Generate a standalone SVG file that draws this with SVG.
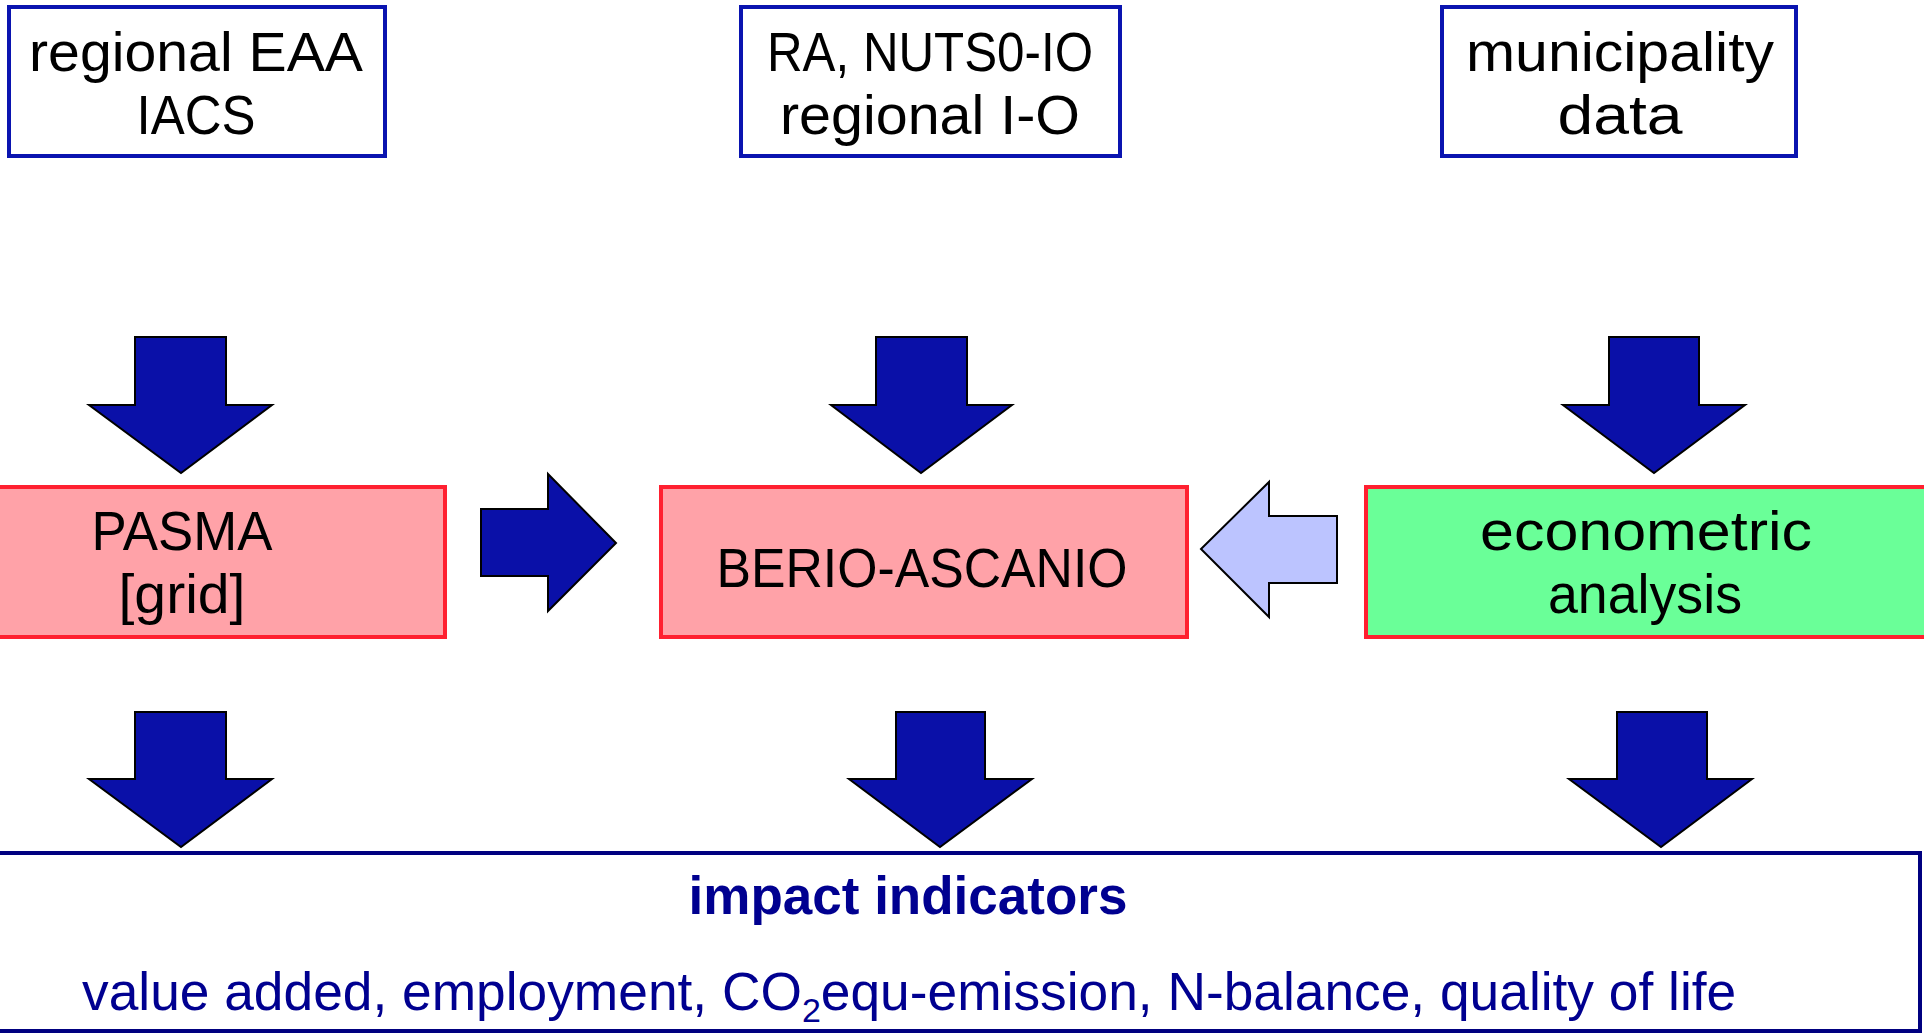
<svg xmlns="http://www.w3.org/2000/svg" width="1924" height="1034" viewBox="0 0 1924 1034">
<style>
.src{fill:#fff;stroke:#0A14B0;stroke-width:4}
.pink{fill:#FFA2A8;stroke:#FF2030;stroke-width:4}
.green{fill:#6AFF98;stroke:#FF2030;stroke-width:4}
.arr{fill:#0A10A8;stroke:#000;stroke-width:2;stroke-linejoin:miter}
.arrl{fill:#BCC4FF;stroke:#000;stroke-width:2}
.lbl{font-family:"Liberation Sans",Arial,sans-serif;font-size:55px;fill:#000;text-anchor:middle}
.out{fill:#fff;stroke:#000080;stroke-width:4}
.ttl{font-family:"Liberation Sans",Arial,sans-serif;font-size:53px;font-weight:bold;fill:#000090;text-anchor:middle}
.val{font-family:"Liberation Sans",Arial,sans-serif;font-size:53.3px;fill:#000090}
</style>
<rect width="1924" height="1034" fill="#fff"/>
<g id="src-eaa">
<rect class="src" x="9" y="7" width="376" height="149"/>
<text class="lbl" x="196" y="71" textLength="334" lengthAdjust="spacingAndGlyphs">regional EAA</text>
<text class="lbl" x="196" y="134" textLength="119" lengthAdjust="spacingAndGlyphs">IACS</text>
</g>
<g id="src-ra">
<rect class="src" x="741" y="7" width="379" height="149"/>
<text class="lbl" x="930" y="71" textLength="326" lengthAdjust="spacingAndGlyphs">RA, NUTS0-IO</text>
<text class="lbl" x="930" y="134" textLength="300" lengthAdjust="spacingAndGlyphs">regional I-O</text>
</g>
<g id="src-muni">
<rect class="src" x="1442" y="7" width="354" height="149"/>
<text class="lbl" x="1620" y="71" textLength="308" lengthAdjust="spacingAndGlyphs">municipality</text>
<text class="lbl" x="1620" y="134" textLength="125" lengthAdjust="spacingAndGlyphs">data</text>
</g>
<g id="pasma">
<rect class="pink" x="-5" y="487" width="450" height="150"/>
<text class="lbl" x="182" y="550" textLength="181" lengthAdjust="spacingAndGlyphs">PASMA</text>
<text class="lbl" x="182" y="613" textLength="127" lengthAdjust="spacingAndGlyphs">[grid]</text>
</g>
<g id="berio">
<rect class="pink" x="661" y="487" width="526" height="150"/>
<text class="lbl" x="922" y="587" textLength="411" lengthAdjust="spacingAndGlyphs">BERIO-ASCANIO</text>
</g>
<g id="econometric">
<rect class="green" x="1366" y="487" width="570" height="150"/>
<text class="lbl" x="1646" y="550" textLength="332" lengthAdjust="spacingAndGlyphs">econometric</text>
<text class="lbl" x="1645" y="613" textLength="194" lengthAdjust="spacingAndGlyphs">analysis</text>
</g>
<g id="impact">
<rect class="out" x="-5" y="853" width="1925" height="178"/>
<text class="ttl" x="908" y="914">impact indicators</text>
<text class="val" x="82" y="1010">value added, employment, CO<tspan font-size="34" dy="12">2</tspan><tspan dy="-12">equ-emission, N-balance, quality of life</tspan></text>
</g>
<g id="connectors">
<polygon class="arr" points="135,337 226,337 226,405 272,405 181,473 89,405 135,405"/>
<polygon class="arr" points="876,337 967,337 967,405 1012,405 921,473 831,405 876,405"/>
<polygon class="arr" points="1609,337 1699,337 1699,405 1745,405 1654,473 1563,405 1609,405"/>
<polygon class="arr" points="135,712 226,712 226,779 272,779 181,847 89,779 135,779"/>
<polygon class="arr" points="896,712 985,712 985,779 1032,779 940,847 849,779 896,779"/>
<polygon class="arr" points="1617,712 1707,712 1707,779 1752,779 1661,847 1569,779 1617,779"/>
<polygon class="arr" points="481,509 548,509 548,474 616,543 548,611 548,576 481,576"/>
<polygon class="arrl" points="1337,516 1269,516 1269,482 1201,549 1269,617 1269,583 1337,583"/>
</g>
</svg>
